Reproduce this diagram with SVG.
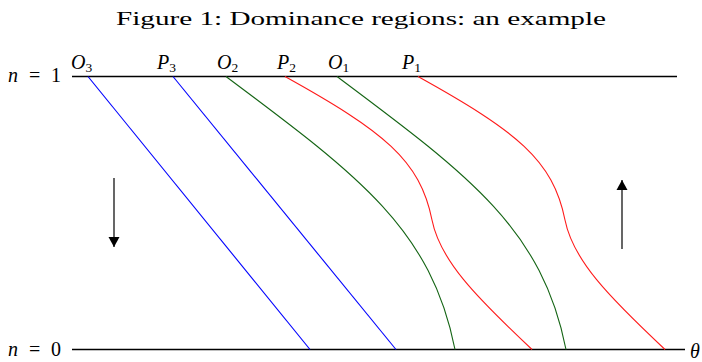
<svg xmlns="http://www.w3.org/2000/svg" width="702" height="362" viewBox="0 0 702 362">
<style>
.t{font-family:"Liberation Serif","DejaVu Serif",serif;fill:#000}
.m{font-family:"Liberation Serif","DejaVu Serif",serif;font-style:italic;font-size:20px;fill:#000}
.u{font-style:normal}
.s{font-size:13.5px;font-style:normal}
.ax{stroke:#000;stroke-width:1.6;fill:none}
.c{fill:none;stroke-width:1.1}
.b{stroke:#0000ff}
.g{stroke:#146414}
.r{stroke:#ff1a1a}
.ar{stroke:#000;stroke-width:1.2;fill:none}
</style>
<defs>
<marker id="ah" viewBox="0 0 10 15" refX="10" refY="7.5" markerWidth="10" markerHeight="15" markerUnits="userSpaceOnUse" orient="auto">
<path d="M0,2 L10,7.5 L0,13 Z" fill="#000"/>
</marker>
</defs>
<g id="title"><text class="t" x="361" y="25" font-size="19.5" text-anchor="middle" textLength="490" lengthAdjust="spacingAndGlyphs">Figure 1: Dominance regions: an example</text></g>
<g id="axis-top">
<line class="ax" x1="72" y1="76.5" x2="677" y2="76.5"/>
<text class="m" y="82"><tspan x="8">n</tspan><tspan class="u" x="29">=</tspan><tspan class="u" x="51">1</tspan></text>
</g>
<g id="axis-bottom">
<line class="ax" x1="72" y1="349.5" x2="685" y2="349.5"/>
<text class="m" y="356"><tspan x="8">n</tspan><tspan class="u" x="29">=</tspan><tspan class="u" x="51">0</tspan></text>
<text class="m" x="690" y="358" font-size="18">θ</text>
</g>
<g id="labels">
<text class="m" x="71" y="69">O<tspan class="s" dy="3">3</tspan></text>
<text class="m" x="157" y="69">P<tspan class="s" dy="3">3</tspan></text>
<text class="m" x="217" y="69">O<tspan class="s" dy="3">2</tspan></text>
<text class="m" x="277" y="69">P<tspan class="s" dy="3">2</tspan></text>
<text class="m" x="328" y="69">O<tspan class="s" dy="3">1</tspan></text>
<text class="m" x="402" y="69">P<tspan class="s" dy="3">1</tspan></text>
</g>
<g id="connectors">
<line class="c b" x1="88" y1="76.5" x2="310" y2="349.5"/>
<line class="c b" x1="173" y1="76.5" x2="396" y2="349.5"/>
<path class="c g" d="M226,76.5 C359,176 431,229 455,349.5"/>
<path class="c g" d="M337,76.5 C470,176 542,229 566,349.5"/>
<path class="c r" d="M285,76.5 C384,131.5 420,160 432,220 C440,260 475,296 532,349.5"/>
<path class="c r" d="M418,76.5 C517,131.5 553,160 565,220 C573,260 608,296 665,349.5"/>
<line class="ar" x1="114" y1="178" x2="114" y2="247" marker-end="url(#ah)"/>
<line class="ar" x1="622" y1="249" x2="622" y2="180" marker-end="url(#ah)"/>
</g>
</svg>
